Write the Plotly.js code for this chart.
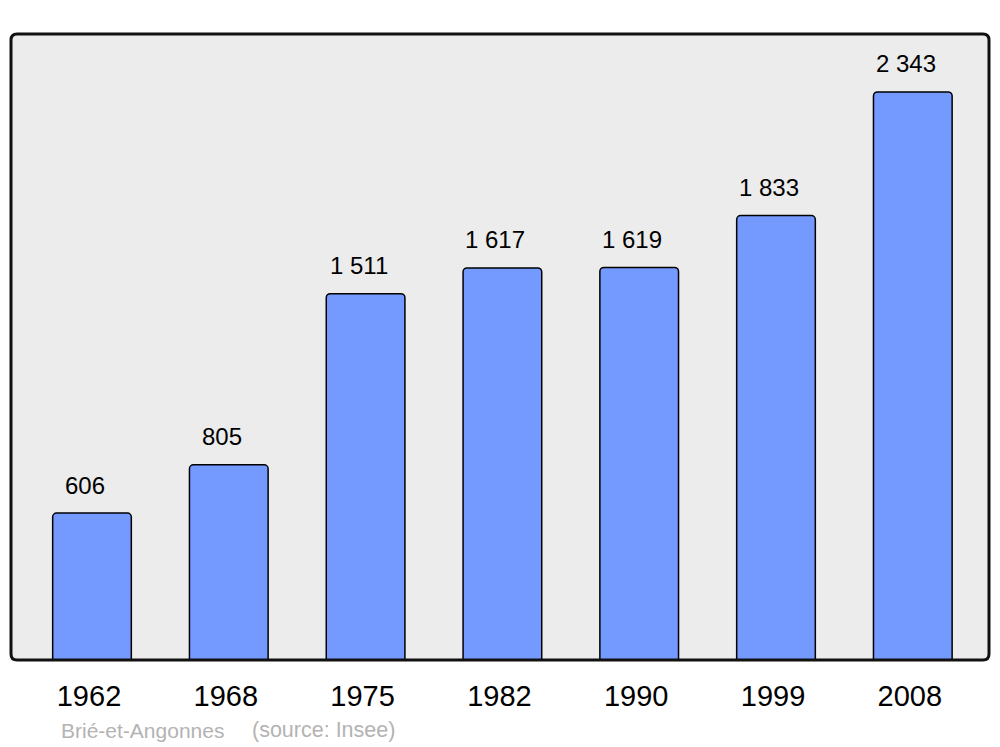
<!DOCTYPE html>
<html>
<head>
<meta charset="utf-8">
<script src="https://cdn.plot.ly/plotly-3.0.1.min.js"></script>
<style>html,body{margin:0;padding:0;background:#fff;}#chart{width:1000px;height:747px;}</style>
</head>
<body>
<div id="chart"></div>
<script>
const years = ["1962", "1968", "1975", "1982", "1990", "1999", "2008"];
const population = [606, 805, 1511, 1617, 1619, 1833, 2343];
const townName = "Brié-et-Angonnes";
const sourceText = "(source: Insee)";

function fmt(v) {
  return String(v).replace(/\B(?=(\d{3})+(?!\d))/g, " ");
}

const FONT = "Liberation Sans, Arial, sans-serif";

const trace = {
  type: "bar",
  x: years,
  y: population,
  width: 0.575,
  marker: {
    color: "#7499ff",
    line: {color: "#000000", width: 1.5},
    cornerradius: 4
  },
  hoverinfo: "none"
};

const annotations = years.map((yr, i) => ({
  x: i, y: population[i], xref: "x", yref: "y",
  text: fmt(population[i]), showarrow: false,
  xanchor: "center", yanchor: "middle", yshift: 28, xshift: -7,
  font: {family: FONT, size: 24, color: "#000"}
}));

annotations.push({
  xref: "paper", yref: "paper", x: 48 / 978, y: -70 / 626,
  xanchor: "left", yanchor: "middle", showarrow: false,
  text: townName, font: {family: FONT, size: 21, color: "#b3b3b3"}
});
annotations.push({
  xref: "paper", yref: "paper", x: 239 / 978, y: -70 / 626,
  xanchor: "left", yanchor: "middle", showarrow: false,
  text: sourceText, font: {family: FONT, size: 21.5, color: "#b3b3b3"}
});

const rx = 6 / 978, ry = 6 / 626;
const framePath =
  `M ${rx} 0 L ${1 - rx} 0 Q 1 0 1 ${ry} L 1 ${1 - ry} Q 1 1 ${1 - rx} 1 ` +
  `L ${rx} 1 Q 0 1 0 ${1 - ry} L 0 ${ry} Q 0 0 ${rx} 0 Z`;

const layout = {
  width: 1000, height: 747,
  margin: {l: 11, r: 11, t: 34, b: 87, pad: 0},
  paper_bgcolor: "#ffffff",
  plot_bgcolor: "rgba(0,0,0,0)",
  showlegend: false,
  xaxis: {
    type: "category",
    range: [-0.592, 6.557],
    showgrid: false, zeroline: false, showline: false,
    ticks: "outside", ticklen: 10, tickcolor: "rgba(0,0,0,0)",
    ticklabelshift: -3,
    tickfont: {family: FONT, size: 29, color: "#000"},
    fixedrange: true
  },
  yaxis: {
    range: [0, 2582],
    showgrid: false, zeroline: false, showline: false,
    showticklabels: false, ticks: "",
    fixedrange: true
  },
  shapes: [
    {type: "path", xref: "paper", yref: "paper", path: framePath,
     fillcolor: "#ececec", line: {width: 0}, layer: "below"},
    {type: "path", xref: "paper", yref: "paper", path: framePath,
     fillcolor: "rgba(0,0,0,0)", line: {color: "#111", width: 3}, layer: "above"}
  ],
  annotations: annotations
};

Plotly.newPlot("chart", [trace], layout, {displayModeBar: false, staticPlot: true});
</script>
</body>
</html>
